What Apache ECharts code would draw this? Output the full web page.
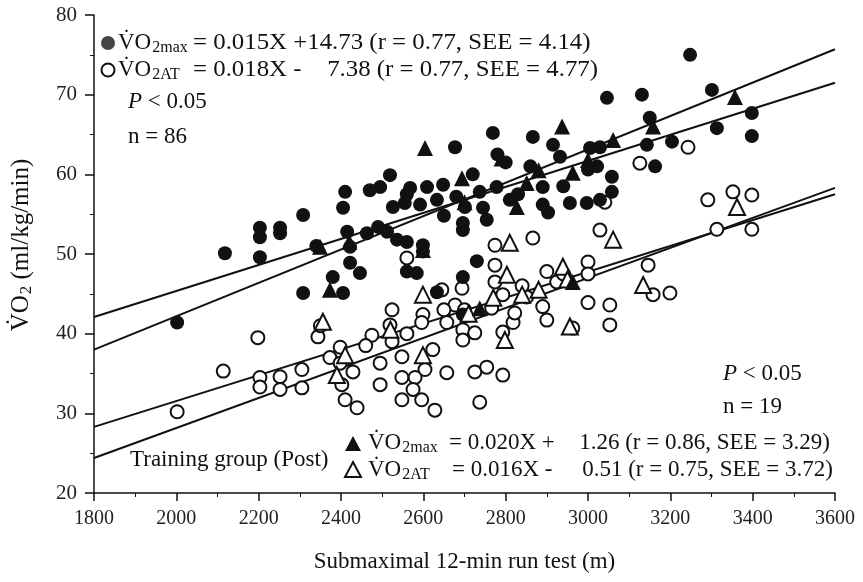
<!DOCTYPE html>
<html>
<head>
<meta charset="utf-8">
<script src="https://cdn.jsdelivr.net/npm/echarts@6/dist/echarts.min.js"></script>
<style>
html, body { margin: 0; padding: 0; background: #fff; }
#main { width: 863px; height: 582px; }
</style>
</head>
<body>
<div id="main"></div>
<script>
// 坐标轴刻度
var xTicks = [1800, 3600, 200];
var yTicks = [20, 80, 10];

// 全体 VO2max (实心圆)
var maxPts = [
	[2002, 41.4], [2118, 50.1], [2203, 53.3], [2203, 52.1], [2203, 49.6], [2252, 53.3], [2252, 52.6],
	[2308, 54.9], [2308, 45.1], [2410, 57.8], [2405, 55.8], [2415, 52.8], [2380, 47.1], [2405, 45.1],
	[2422, 48.9], [2340, 51.0], [2677, 63.4], [2769, 65.2], [2866, 64.7], [2780, 62.5], [2800, 61.5],
	[2915, 63.7], [2932, 62.2], [3005, 63.3], [3022, 61.0], [2519, 59.9], [2495, 58.4], [2568, 58.3],
	[2609, 58.4], [2648, 58.7], [2737, 57.8], [2778, 58.4], [2810, 56.8], [2890, 58.4], [2555, 56.4],
	[2592, 56.2], [2633, 56.8], [2701, 55.9], [2745, 55.8], [2754, 54.3], [2696, 53.9], [2696, 53.0],
	[2890, 56.2], [2903, 55.2], [2956, 56.4], [2997, 56.4], [3029, 56.8], [2526, 55.9], [2422, 50.9],
	[2490, 53.4], [2463, 52.6], [2512, 52.8], [2536, 51.8], [2560, 51.5], [2599, 51.1], [2446, 47.6],
	[2560, 47.8], [2584, 47.6], [2599, 50.3], [2730, 49.1], [2696, 47.1], [3248, 75.0], [3046, 69.6],
	[3131, 70.0], [3301, 70.6], [3150, 67.1], [3398, 67.7], [3313, 65.8], [3398, 64.8], [3029, 63.4],
	[3143, 63.7], [3204, 64.1], [3163, 61.0], [3000, 60.6], [3058, 59.7], [3058, 57.8], [2633, 45.2],
	[2696, 42.4], [2470, 58.0], [2650, 54.8], [2860, 61.0], [2720, 60.0], [2560, 57.5], [2830, 57.5],
	[2680, 57.2], [2940, 58.5]
];

// 全体 VO2AT (空心圆)
var atPts = [
	[2344, 39.6], [2198, 39.5], [2114, 35.3], [2203, 34.5], [2203, 33.3], [2252, 34.6], [2252, 33.0],
	[2305, 35.5], [2305, 33.2], [2002, 30.2], [2373, 37.0], [2398, 38.3], [2398, 36.3], [2402, 33.6],
	[2410, 31.7], [2429, 35.2], [2439, 30.7], [2475, 39.8], [2524, 43.0], [2519, 41.1], [2524, 39.0],
	[2495, 36.3], [2495, 33.6], [2548, 37.1], [2623, 38.0], [2604, 35.5], [2548, 34.5], [2580, 34.5],
	[2575, 33.0], [2548, 31.7], [2596, 31.7], [2628, 30.4], [2657, 35.1], [2725, 35.2], [2754, 35.8],
	[2793, 34.8], [2737, 31.4], [2599, 42.4], [2596, 41.4], [2657, 41.4], [2677, 43.6], [2696, 40.5],
	[2696, 39.2], [2725, 40.1], [2766, 43.2], [2793, 44.9], [2793, 40.2], [2818, 41.4], [2822, 42.6],
	[2851, 44.6], [2866, 52.0], [2774, 51.1], [2774, 48.6], [2774, 46.5], [2694, 45.7], [2645, 45.5],
	[2560, 49.5], [3000, 49.0], [2900, 47.8], [2924, 46.5], [2890, 43.4], [2900, 41.7], [2963, 40.7],
	[3000, 43.9], [3243, 63.4], [3126, 61.4], [3041, 56.5], [3291, 56.8], [3352, 57.8], [3398, 57.4],
	[3029, 53.0], [3313, 53.1], [3398, 53.1], [3146, 48.6], [3158, 44.9], [3199, 45.1], [3053, 43.6],
	[3053, 41.1], [2940, 47.5], [2350, 41.0], [2700, 43.0], [2460, 38.5], [2560, 40.0], [2840, 46.0],
	[2650, 43.0], [3000, 47.5]
];

// 训练组 VO2max (实心三角)
var trMaxPts = [
	[2604, 63.3], [2937, 66.0], [2963, 60.2], [2694, 59.5], [2851, 58.9], [2827, 55.9], [2349, 50.9],
	[2373, 45.5], [3357, 69.7], [3158, 66.0], [3061, 64.3], [2963, 46.5], [2737, 43.2], [2599, 50.5],
	[2790, 62.0], [2420, 51.5], [3000, 61.8], [2880, 60.5], [2700, 56.5]
];

// 训练组 VO2AT (空心三角)
var trAtPts = [
	[2356, 41.5], [2390, 34.8], [2410, 37.3], [2599, 44.9], [2599, 37.3], [2810, 51.4], [2803, 47.4],
	[2798, 39.2], [2939, 48.4], [2956, 40.9], [3061, 51.8], [3362, 55.9], [3134, 46.1], [2840, 44.9],
	[2710, 42.5], [2950, 46.8], [2880, 45.5], [2770, 44.5], [2520, 40.5]
];

// 回归直线 (按图读取端点)
var maxLine = [[1800, 42.1], [3600, 71.5]];
var atLine = [[1800, 24.4], [3600, 58.3]];
var trMaxLine = [[1800, 38.0], [3600, 75.7]];
var trAtLine = [[1800, 28.3], [3600, 57.5]];

var FONT = 'Liberation Serif';
var INK = '#111';
var FS = 23;

function txt(x, y, text, rich, align, sx) {
	return {
		type : 'text',
		x : x,
		y : y,
		scaleX : sx || 1,
		z : 100,
		style : {
			text : text,
			fontFamily : FONT,
			fontSize : FS,
			fill : INK,
			textAlign : align || 'left',
			textVerticalAlign : 'middle',
			rich : rich
		}
	};
}

var richSub = {
	a : { fontFamily : FONT, fontSize : FS, color : INK },
	s : { fontFamily : FONT, fontSize : 16, color : INK, padding : [ 10, 0, 0, 1 ] },
	i : { fontFamily : FONT, fontSize : FS, color : INK, fontStyle : 'italic' }
};

var richTitle = {
	a : { fontFamily : FONT, fontSize : 25, color : INK },
	s : { fontFamily : FONT, fontSize : 17, color : INK, padding : [ 11, 0, 0, 1 ] }
};

function lineSeries(d) {
	return {
		type : 'line',
		data : d,
		symbol : 'none',
		silent : true,
		z : 3,
		lineStyle : { color : INK, width : 2 }
	};
}

function plain(v) {
	return String(v);
}

var myChart = echarts.init(document.getElementById('main'));
var option = {
	backgroundColor : '#fff',
	animation : false,
	grid : { left : 94, right : 28, top : 15, bottom : 89 },
	xAxis : {
		type : 'value',
		min : xTicks[0],
		max : xTicks[1],
		interval : xTicks[2],
		name : 'Submaximal 12-min run test (m)',
		nameLocation : 'middle',
		nameGap : 57,
		nameTextStyle : { fontFamily : FONT, fontSize : 23, color : INK },
		axisLine : { lineStyle : { color : INK, width : 1.5 } },
		axisTick : { length : 8, lineStyle : { color : INK, width : 1.5 } },
		minorTick : { show : true, splitNumber : 2, length : 4, lineStyle : { color : INK } },
		splitLine : { show : false },
		axisLabel : { fontFamily : FONT, fontSize : 20, color : '#222', margin : 16, formatter : plain }
	},
	yAxis : {
		type : 'value',
		min : yTicks[0],
		max : yTicks[1],
		interval : yTicks[2],
		name : '{a|V\u0307O}{s|2}{a| (ml/kg/min)}',
		nameLocation : 'middle',
		nameGap : 59,
		nameTextStyle : { rich : richTitle, padding : [ 0, 0, 0, 18 ] },
		axisLine : { lineStyle : { color : INK, width : 1.5 } },
		axisTick : { length : 9, lineStyle : { color : INK, width : 1.5 } },
		minorTick : { show : true, splitNumber : 2, length : 4, lineStyle : { color : INK } },
		splitLine : { show : false },
		axisLabel : { fontFamily : FONT, fontSize : 21, color : '#222', margin : 17, formatter : plain }
	},
	series : [
		lineSeries(maxLine),
		lineSeries(atLine),
		lineSeries(trMaxLine),
		lineSeries(trAtLine),
		{
			type : 'scatter',
			data : atPts,
			symbol : 'circle',
			symbolSize : 13,
			z : 4,
			itemStyle : { color : '#fff', borderColor : INK, borderWidth : 2, opacity : 1 }
		},
		{
			type : 'scatter',
			data : maxPts,
			symbol : 'circle',
			symbolSize : 14,
			z : 5,
			itemStyle : { color : INK, opacity : 1 }
		},
		{
			type : 'scatter',
			data : trAtPts,
			symbol : 'triangle',
			symbolSize : 16,
			z : 6,
			itemStyle : { color : '#fff', borderColor : INK, borderWidth : 2, opacity : 1 }
		},
		{
			type : 'scatter',
			data : trMaxPts,
			symbol : 'triangle',
			symbolSize : 16,
			z : 7,
			itemStyle : { color : INK, opacity : 1 }
		}
	],
	graphic : [
		// 左上 图例
		{ type : 'circle', shape : { cx : 108, cy : 43, r : 7 }, style : { fill : '#444' }, z : 100 },
		{ type : 'circle', shape : { cx : 108, cy : 70, r : 6.5 }, style : { fill : '#fff', stroke : INK, lineWidth : 2 }, z : 100 },
		txt(118, 43, '{a|V\u0307O}{s|2max}', richSub),
		txt(193, 43, '= 0.015X +14.73 (r = 0.77, SEE = 4.14)', null, 'left', 1.08),
		txt(118, 70, '{a|V\u0307O}{s|2AT}', richSub),
		txt(193, 70, '= 0.018X -', null, 'left', 1.08),
		txt(598, 70, '7.38 (r = 0.77, SEE = 4.77)', null, 'right', 1.08),
		txt(128, 102, '{i|P}{a| < 0.05}', richSub),
		txt(128, 137, 'n = 86'),
		// 右下 训练组
		txt(723, 374, '{i|P}{a| < 0.05}', richSub),
		txt(723, 407, 'n = 19'),
		txt(130, 460, 'Training group (Post)'),
		{ type : 'polygon', shape : { points : [ [ 353, 436 ], [ 361, 451 ], [ 345, 451 ] ] }, style : { fill : INK }, z : 100 },
		{ type : 'polygon', shape : { points : [ [ 353, 462 ], [ 361, 477 ], [ 345, 477 ] ] }, style : { fill : '#fff', stroke : INK, lineWidth : 2 }, z : 100 },
		txt(368, 443, '{a|V\u0307O}{s|2max}', richSub),
		txt(449, 443, '= 0.020X +'),
		txt(830, 443, '1.26 (r = 0.86, SEE = 3.29)', null, 'right'),
		txt(368, 470, '{a|V\u0307O}{s|2AT}', richSub),
		txt(452, 470, '= 0.016X -'),
		txt(833, 470, '0.51 (r = 0.75, SEE = 3.72)', null, 'right')
	]
};
myChart.setOption(option, true);
</script>
</body>
</html>
